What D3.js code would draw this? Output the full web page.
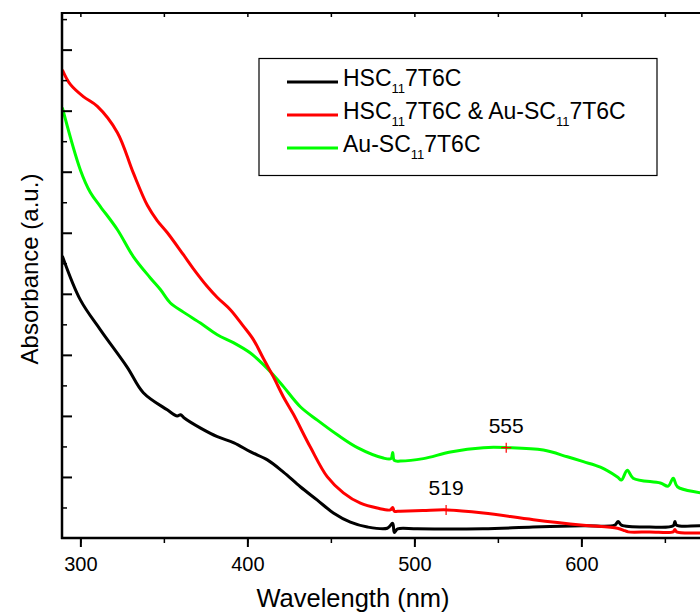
<!DOCTYPE html>
<html><head><meta charset="utf-8">
<script src="https://cdn.jsdelivr.net/npm/d3@7"></script>
<style>body{margin:0;background:#fff}svg{display:block;font-family:Arial,"Liberation Sans",sans-serif}</style>
</head><body>
<svg id="c" width="700" height="614"></svg>
<script>
const blackData = [[289.2,4.62],[300,3.90],[312,3.41],[328,2.80],[337.7,2.38],[352,2.10],[358,2.00],[360,2.02],[362,1.97],[372,1.80],[382,1.66],[392,1.56],[402,1.41],[412,1.28],[421.6,1.08],[431.7,0.84],[441.9,0.62],[451.5,0.41],[461.7,0.26],[471.9,0.18],[483.8,0.16],[487,0.24],[488,0.09],[490,0.15],[501.8,0.15],[541,0.15],[571,0.18],[601,0.20],[620,0.21],[622,0.27],[624,0.21],[641,0.18],[655,0.20],[656,0.27],[657,0.21],[671,0.20],[700,0.21]];
const redData = [[289.2,7.67],[294,7.43],[301.8,7.23],[310.2,7.07],[322.2,6.64],[331.7,5.98],[340.1,5.45],[346,5.20],[352.1,5.0],[361.7,4.64],[367.7,4.41],[376,4.12],[382,3.94],[389.8,3.74],[397.6,3.47],[403.6,3.25],[409.6,2.94],[415.6,2.64],[421.6,2.31],[427.5,2.03],[437.7,1.49],[447.9,1.00],[457.5,0.74],[467.7,0.57],[477.8,0.49],[485.6,0.46],[487,0.50],[488,0.44],[491.6,0.44],[505,0.45],[519.8,0.46],[541.3,0.41],[571.3,0.30],[601.2,0.21],[621.6,0.16],[626,0.12],[628,0.10],[641,0.10],[655,0.10],[656,0.14],[657,0.10],[671,0.08],[700,0.07]];
const greenData = [[289.2,7.05],[300,6.03],[306,5.66],[312,5.43],[322.2,5.05],[331.7,4.61],[341.9,4.26],[347.9,4.07],[353.9,3.85],[361.7,3.70],[371.9,3.52],[382,3.33],[391.6,3.20],[401.8,3.03],[409.6,2.84],[415.6,2.67],[421.6,2.48],[431.7,2.15],[441.9,1.93],[453.9,1.69],[465.9,1.48],[481.4,1.31],[486,1.30],[487,1.40],[488,1.27],[491.6,1.26],[505.4,1.30],[521.6,1.41],[541.3,1.48],[555.7,1.48],[577.2,1.44],[591.6,1.33],[601.2,1.25],[611.4,1.16],[621.6,1.00],[624,0.95],[627.5,1.11],[631,0.98],[647.3,0.90],[652,0.85],[655,0.98],[657.5,0.84],[671.3,0.74],[700,0.62]];
const seriesNames = [["HSC","11","7T6C"],["HSC","11","7T6C & Au-SC","11","7T6C"],["Au-SC","11","7T6C"]];
const seriesColors = ["#000000","#ff0000","#00ff00"];
const peakLabels = [{nm:555,a:1.48,text:"555"},{nm:519,a:0.46,text:"519"}];
const xTicks = [300,400,500,600];
const xTitle = "Wavelength (nm)";
const yTitle = "Absorbance (a.u.)";

const svg = d3.select("#c");
const L=62, T=13, B=538;
const x = d3.scaleLinear().domain([289,700]).range([L, L+411*1.67]);
const y = d3.scaleLinear().domain([0,8.6]).range([B, T]);
const R = x(700);

svg.append("clipPath").attr("id","clip").append("rect").attr("x",L).attr("y",T).attr("width",R-L).attr("height",B-T);

const line = d3.line().x(d=>x(d[0])).y(d=>y(d[1])).curve(d3.curveCatmullRom.alpha(0.5));
const g = svg.append("g").attr("clip-path","url(#clip)");
[blackData, greenData, redData].forEach((d,i)=>{
  const col = [seriesColors[0],seriesColors[2],seriesColors[1]][i];
  g.append("path").datum(d).attr("d",line).attr("fill","none").attr("stroke",col).attr("stroke-width",3).attr("stroke-linejoin","round");
});

// peak markers
peakLabels.forEach(p=>{
  const px=x(p.nm), py=y(p.a);
  svg.append("path").attr("d",`M${px-5},${py}H${px+5}M${px},${py-5}V${py+5}`).attr("stroke","#ff0000").attr("stroke-width",1.2);
  svg.append("text").attr("x",px).attr("y",py-15).attr("text-anchor","middle").attr("font-size",21).text(p.text);
});

// bottom axis
const minorX = d3.range(300,701,50);
svg.append("g").attr("transform",`translate(0,${B})`)
  .call(d3.axisBottom(x).tickValues(minorX).tickFormat("").tickSize(5).tickSizeOuter(0))
  .call(a=>a.select(".domain").remove()).selectAll("line").attr("stroke-width",1.5);
svg.append("g").attr("transform",`translate(0,${B})`)
  .call(d3.axisBottom(x).tickValues(xTicks).tickSize(9).tickSizeOuter(0).tickPadding(10))
  .call(a=>{a.select(".domain").remove();a.selectAll("line").attr("stroke-width",2);a.selectAll("text").attr("font-size",20).attr("font-family","Arial, 'Liberation Sans', sans-serif").attr("fill","#000");});
svg.append("line").attr("x1",L-1).attr("x2",R).attr("y1",B).attr("y2",B).attr("stroke","#000").attr("stroke-width",2.5);

// top axis
svg.append("g").attr("transform",`translate(0,${T})`)
  .call(d3.axisBottom(x).tickValues(minorX).tickFormat("").tickSize(4).tickSizeOuter(0))
  .call(a=>a.select(".domain").remove()).selectAll("line").attr("stroke-width",1.5);
svg.append("line").attr("x1",L).attr("x2",R).attr("y1",T).attr("y2",T).attr("stroke","#000").attr("stroke-width",2);

// left axis
svg.append("g").attr("transform",`translate(${L},0)`)
  .call(d3.axisRight(y).tickValues(d3.range(0.5,8.6,1)).tickFormat("").tickSize(5).tickSizeOuter(0))
  .call(a=>a.select(".domain").remove()).selectAll("line").attr("stroke-width",1.5);
svg.append("g").attr("transform",`translate(${L},0)`)
  .call(d3.axisRight(y).tickValues(d3.range(1,9,1)).tickFormat("").tickSize(10).tickSizeOuter(0))
  .call(a=>a.select(".domain").remove()).selectAll("line").attr("stroke-width",2);
svg.append("line").attr("x1",L).attr("x2",L).attr("y1",T-1).attr("y2",B+1).attr("stroke","#000").attr("stroke-width",2.5);

// titles
svg.append("text").attr("x",353).attr("y",607).attr("text-anchor","middle").attr("font-size",25.5).text(xTitle);
svg.append("text").attr("transform","translate(38,269) rotate(-90)").attr("text-anchor","middle").attr("font-size",24).text(yTitle);

// legend
const lg = svg.append("g");
lg.append("rect").attr("x",259).attr("y",58.5).attr("width",398).attr("height",117).attr("fill","#fff").attr("stroke","#000").attr("stroke-width",1.2);
const rows=[82,115,148];
seriesNames.forEach((parts,i)=>{
  lg.append("line").attr("x1",287).attr("x2",338).attr("y1",rows[i]).attr("y2",rows[i]).attr("stroke",seriesColors[i]).attr("stroke-width",3);
  const t = lg.append("text").attr("x",343).attr("y",rows[i]+4).attr("font-size",23);
  parts.forEach((p,j)=>{
    if (j%2===1) {
      t.append("tspan").attr("font-size",13).attr("dy",7).text(p);
    } else {
      t.append("tspan").attr("dy", j===0?0:-7).text(p);
    }
  });
});
</script>
</body></html>
